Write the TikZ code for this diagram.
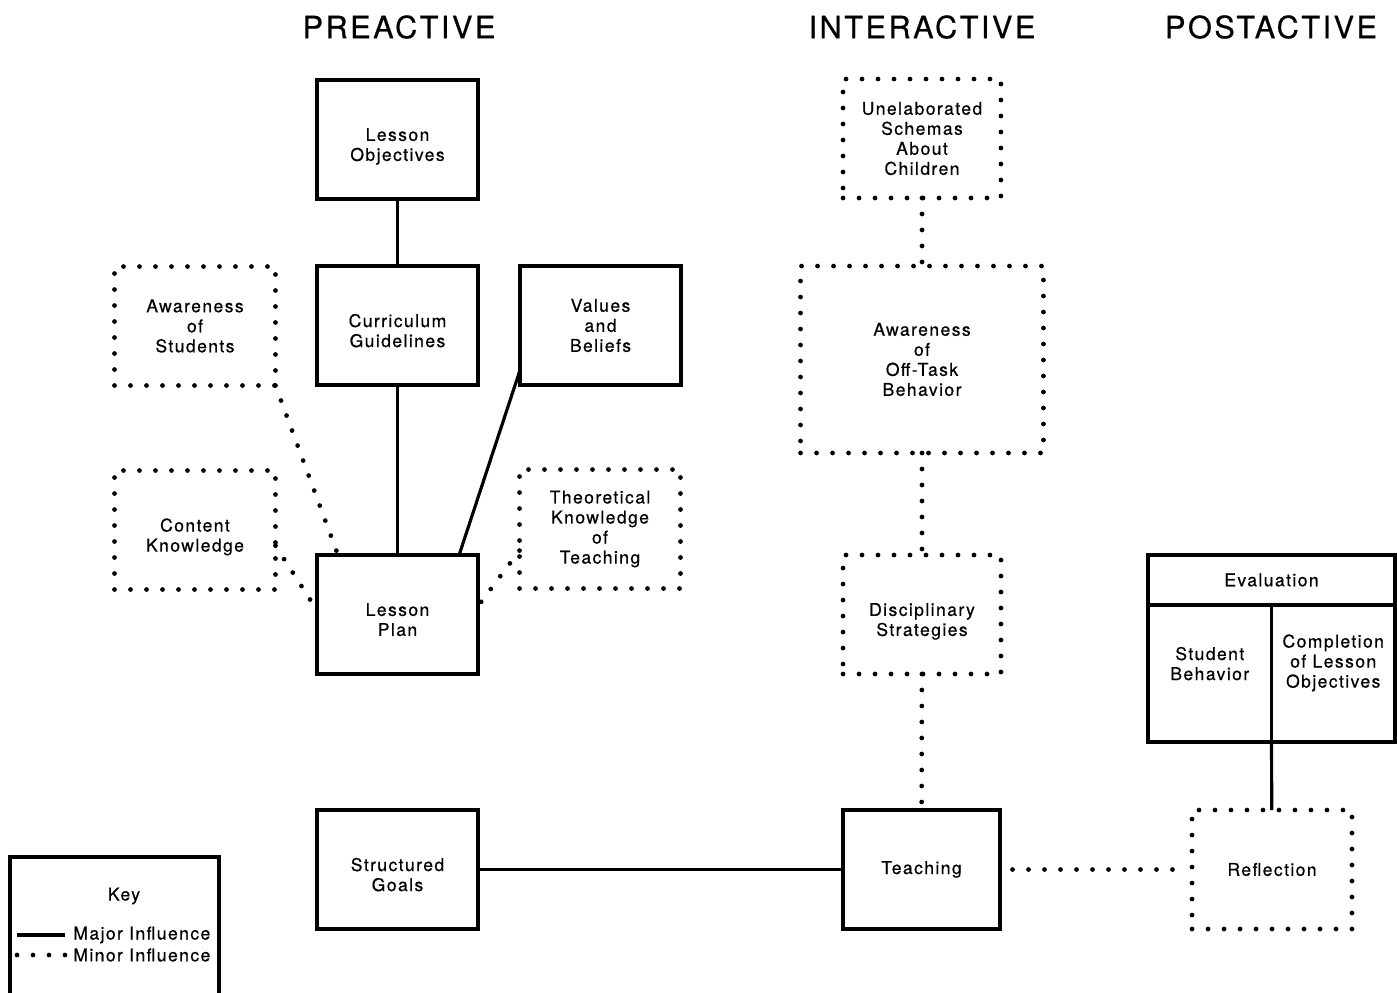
\documentclass[tikz,border=0pt]{standalone}
\usepackage{fontspec}
\setmainfont{TeX Gyre Heros}[LetterSpace=8,FakeBold=0.5]
\usetikzlibrary{positioning}
\tikzset{
    planning diagram/.style={
            x=0.02cm,y=-0.02cm,
            font=\fontsize{10}{11.4}\selectfont,
            every node/.style={align=center},
            box/.style={minimum width=3.22cm,minimum height=2.38cm,inner sep=0pt,outer sep=0pt},
            majorbox/.style={box,draw,line width=2.2pt},
            minorbox/.style={box,draw,line width=2.7pt,line cap=round,dash pattern=on 0pt off 0.32cm},
            major/.style={line width=1.8pt},
            minor/.style={line width=2.7pt,line cap=round,dash pattern=on 0pt off 0.32cm},
            phase/.style={font=\fontsize{17.5}{20}\selectfont}
        }
    }
\begin{document}
\begin{tikzpicture}[planning diagram]
    \useasboundingbox (0,0) rectangle (1397,992);
    \node (pre) [phase] at (399,27) {PREACTIVE};
    \node (inter) [phase] at (922,27) {INTERACTIVE};
    \node (post) [phase] at (1271,27) {POSTACTIVE};

    \node (objectives) [majorbox] at (397.5,139.5) {Lesson\\Objectives\\[-0.6cm]};
    \node (curriculum) [majorbox] at (397.5,325.5) {Curriculum\\Guidelines\\[-0.6cm]};
    \node (values) [majorbox] at (600.5,325.5) {Values\\and\\Beliefs};
    \node (students) [minorbox] at (195,326) {Awareness\\of\\Students};
    \node (content) [minorbox] at (195,530) {Content\\Knowledge\\[-0.6cm]};
    \node (theory) [minorbox] at (600,529) {Theoretical\\Knowledge\\of\\Teaching};
    \node (plan) [majorbox] at (397.5,614.5) {Lesson\\Plan\\[-0.6cm]};
    \node (goals) [majorbox] at (397.5,869.5) {Structured\\Goals\\[-0.6cm]};

    \node (schemas) [minorbox,minimum width=3.16cm] at (922,138.5) {Unelaborated\\Schemas\\About\\Children};
    \node (offtask) [minorbox,minimum width=4.86cm,minimum height=3.74cm] at (922,359.5) {Awareness\\of\\Off-Task\\Behavior};
    \node (discipline) [minorbox,minimum width=3.16cm] at (922,614.5) {Disciplinary\\Strategies\\[-0.6cm]};
    \node (teaching) [majorbox,minimum width=3.14cm] at (921.5,869.5) {Teaching};

    \node (evaluation) [majorbox,minimum width=4.94cm,minimum height=1cm] at (1271.5,580) {Evaluation};
    \node (behavior) [majorbox,minimum width=2.47cm,minimum height=2.74cm,anchor=north west] at (evaluation.south west) {Student\\Behavior\\[0pt]};
    \node (completion) [majorbox,minimum width=2.47cm,minimum height=2.74cm,anchor=north east] at (evaluation.south east) {Completion\\of Lesson\\Objectives\\[0.1cm]};
    \node (reflection) [minorbox,minimum width=3.2cm] at (1272,869.5) {Reflection};

    \node (key) [draw,line width=2.2pt,minimum width=4.18cm,minimum height=3cm,anchor=north west,inner sep=0pt,outer sep=0pt] at (10,857) {};
    \node (keytitle) at (124,896) {Key};
    \coordinate (majorstart) at (17,935);
    \coordinate (majorend) at (65,935);
    \coordinate (minorstart) at (17,955);
    \coordinate (minorend) at (66,955);
    \node (majortext) [right=0.16cm of majorend,inner sep=0pt] {Major Influence};
    \node (minortext) [right=0.14cm of minorend,inner sep=0pt] {Minor Influence};
    \draw [major] (majorstart) -- (majorend);
    \draw [minor] (minorstart) -- (minorend);

    \draw [major] (objectives) -- (curriculum);
    \draw [major] (curriculum) -- (plan);
    \draw [major] (values.209) -- (plan.44);
    \draw [minor] (students.south east) -- (plan.135);
    \draw [minor] (content.-11) -- (plan.177);
    \draw [minor] (theory.195) -- (plan.6);
    \draw [major] (goals) -- (teaching);
    \draw [minor] (schemas) -- (offtask);
    \draw [minor] (offtask) -- (discipline);
    \draw [minor] (discipline) -- (teaching);
    \draw [minor,shorten <=0.25cm,shorten >=0.25cm] (teaching) -- (reflection);
    \draw [major] (behavior.south east) -- (reflection);
\end{tikzpicture}
\end{document}
